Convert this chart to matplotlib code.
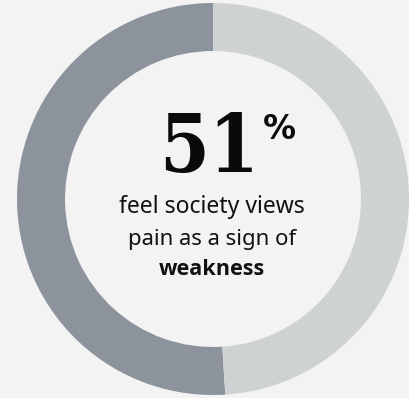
import matplotlib
matplotlib.use("Agg")
import matplotlib.pyplot as plt

# data
labels = ["Yes", "No"]
values = [51, 49]
colors = ["#8c939c", "#cfd2d3"]
headline = "51"
lines = ["feel society views", "pain as a sign of", "weakness"]

BG = "#f3f3f3"
W, H = 409, 398
CX, CY, R = 213, 199, 196  # donut centre and radius in pixels

fig = plt.figure(figsize=(W / 100, H / 100), dpi=100, facecolor=BG)
ax = fig.add_axes([(CX - R) / W, (H - CY - R) / H, 2 * R / W, 2 * R / H])
ax.set_facecolor(BG)
ax.pie(values, colors=colors, startangle=90, counterclock=True, radius=1,
       wedgeprops=dict(width=0.245, linewidth=0))
ax.set_xlim(-1, 1)
ax.set_ylim(-1, 1)
ax.set_aspect("auto")
ax.axis("off")

def px(x, y):
    # pixel (top-left origin) -> data coords of the donut axes
    return (x - CX) / R, (CY - y) / R

renderer = fig.canvas.get_renderer()

def fit(t, width):
    bb = t.get_window_extent(renderer)
    t.set_fontsize(t.get_fontsize() * width / bb.width)

num = ax.text(*px(209, 172), headline, ha="center", va="baseline",
              fontsize=50, color="#0a0a0a",
              family="DejaVu Serif", weight="heavy", stretch="condensed")
fit(num, 100)

pct = ax.text(*px(263, 139), "%", ha="left", va="baseline",
              fontsize=20, color="#0a0a0a", family="DejaVu Sans", weight="bold")
fit(pct, 33)

base_y = [213, 245, 275]
widths = [186, 168, 107]
fams = ["Noto Sans", "Noto Sans", "Open Sans"]
for txt, y, w, fam, bold in zip(lines, base_y, widths, fams, [False, False, True]):
    t = ax.text(*px(212, y), txt, ha="center", va="baseline", fontsize=14,
                color="#111111", family=fam,
                weight="bold" if bold else "normal")
    fit(t, w)

fig.savefig("out.png", dpi=100, facecolor=BG)
